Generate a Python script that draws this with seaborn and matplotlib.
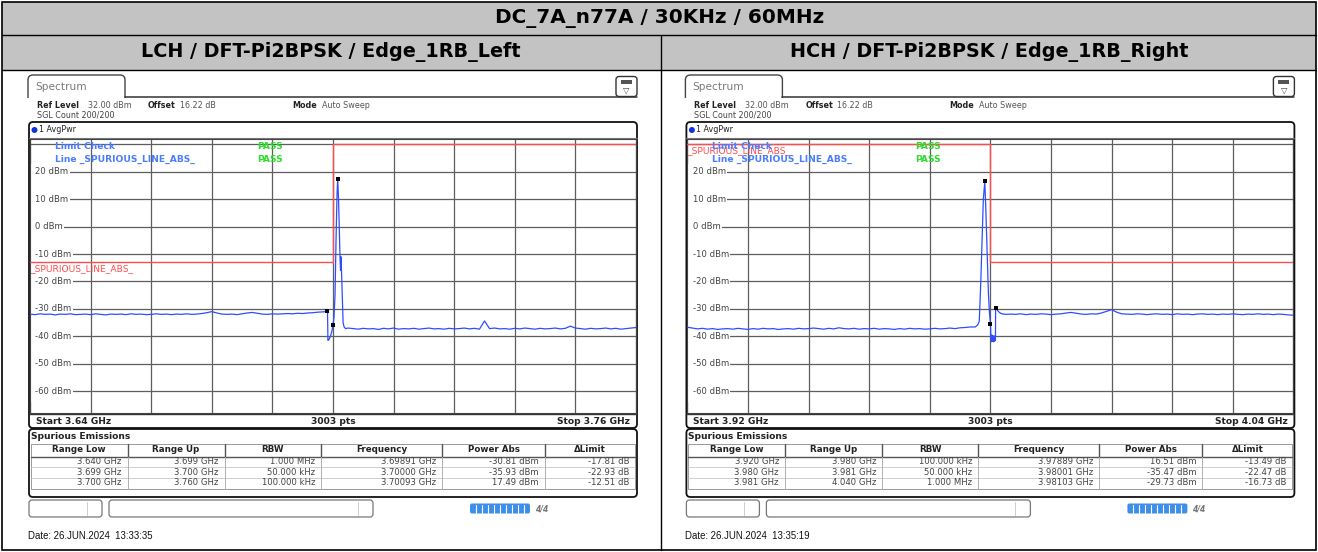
import numpy as np
import pandas as pd
import matplotlib
matplotlib.use("Agg")
import matplotlib.pyplot as plt
from matplotlib.patches import Rectangle, FancyBboxPatch, Circle
import matplotlib.transforms as mtransforms
import seaborn as sns

# ---------------- data ----------------
TITLE = "DC_7A_n77A / 30KHz / 60MHz"
PANEL_TITLES = ["LCH / DFT-Pi2BPSK / Edge_1RB_Left", "HCH / DFT-Pi2BPSK / Edge_1RB_Right"]
START_GHZ = [3.64, 3.92]
STOP_GHZ = [3.76, 4.04]
SWEEP_PTS = 3003
REF_LEVEL = "32.00 dBm"
OFFSET = "16.22 dB"
MODE = "Auto Sweep"
SGL_COUNT = "SGL Count 200/200"
TRACE_NAME = "1 AvgPwr"
LIMIT_NAME = "_SPURIOUS_LINE_ABS_"
Y_TICKS = [20, 10, 0, -10, -20, -30, -40, -50, -60]
DATES = ["Date: 26.JUN.2024  13:33:35", "Date: 26.JUN.2024  13:35:19"]
TABLE_COLS = ["Range Low", "Range Up", "RBW", "Frequency", "Power Abs", "\u0394Limit"]

# left panel spurious table
L_range_low = [3.640, 3.699, 3.700]
L_range_up = [3.699, 3.700, 3.760]
L_rbw = ["1.000 MHz", "50.000 kHz", "100.000 kHz"]
L_freq = [3.69891, 3.70000, 3.70093]
L_power = [-30.81, -35.93, 17.49]
L_delta = [-17.81, -22.93, -12.51]
# right panel spurious table
R_range_low = [3.920, 3.980, 3.981]
R_range_up = [3.980, 3.981, 4.040]
R_rbw = ["100.000 kHz", "50.000 kHz", "1.000 MHz"]
R_freq = [3.97889, 3.98001, 3.98103]
R_power = [16.51, -35.47, -29.73]
R_delta = [-13.49, -22.47, -16.73]

# trace readings (dBm); floor segments sampled every 1 MHz
L_floor1_start = 3.640
L_floor1 = [-31.9, -32.1, -31.8, -32.0, -31.9, -32.2, -31.9, -32.0, -31.8, -32.1,
            -32.0, -31.9, -32.1, -31.8, -32.0, -32.2, -31.9, -32.0, -31.9, -32.1,
            -31.8, -32.0, -31.9, -32.1, -32.0, -31.8, -32.0, -31.9, -32.1, -31.9,
            -32.0, -31.8, -32.0, -31.9, -31.7, -31.4, -31.0, -31.5, -31.9, -32.0,
            -31.9, -32.1, -31.8, -31.5, -31.3, -31.6, -31.9, -32.0, -31.8, -31.9,
            -31.8, -31.7, -31.8, -31.6, -31.7, -31.5, -31.4, -31.2]
L_peak_f = [3.6980, 3.6985, 3.69891, 3.6990, 3.6992, 3.6995, 3.6998, 3.7000, 3.7002,
            3.7004, 3.7006, 3.7008, 3.70093, 3.7011, 3.7013, 3.7014, 3.7015, 3.7016,
            3.7017, 3.7018, 3.7019, 3.7020, 3.7022, 3.7025]
L_peak_p = [-31.1, -31.0, -30.81, -41.5, -41.2, -40.0, -38.0, -35.93, -33.0,
            -25.0, -5.0, 12.0, 17.49, 10.0, -5.0, -12.0, -16.0, -11.0,
            -17.0, -24.0, -30.0, -35.0, -36.6, -37.2]
L_floor2_start = 3.703
L_floor2 = [-37.0, -37.2, -37.4, -37.1, -37.3, -37.2, -37.5, -37.1, -37.3, -37.0,
            -37.4, -37.2, -37.3, -37.1, -37.4, -37.2, -37.0, -37.3, -37.2, -37.4,
            -37.1, -37.3, -37.2, -37.0, -37.3, -37.1, -37.4, -34.4, -37.2, -37.0,
            -37.3, -37.2, -37.4, -37.1, -37.3, -37.0, -37.2, -37.4, -37.1, -37.3,
            -37.2, -37.0, -37.3, -37.1, -36.3, -37.0, -37.2, -37.4, -37.1, -37.3,
            -37.2, -37.0, -37.3, -37.1, -37.4, -37.2, -37.0, -36.8]

R_floor1_start = 3.920
R_floor1 = [-36.7, -37.0, -37.3, -37.1, -37.4, -37.2, -37.5, -37.3, -37.2, -37.4,
            -37.1, -37.3, -37.5, -37.2, -37.4, -37.1, -37.3, -37.2, -37.5, -37.3,
            -37.2, -37.4, -37.1, -37.3, -37.2, -37.0, -37.2, -37.4, -37.1, -37.3,
            -36.9, -37.2, -37.3, -37.1, -37.4, -37.2, -37.3, -37.1, -37.4, -37.2,
            -37.3, -37.5, -37.2, -37.4, -37.1, -37.3, -37.2, -37.4, -37.3, -37.1,
            -37.3, -37.2, -37.0, -37.2, -36.9, -36.8, -36.6]
R_peak_f = [3.9770, 3.9775, 3.9778, 3.9781, 3.9784, 3.9786, 3.97889, 3.9791, 3.9793,
            3.9794, 3.9796, 3.9798, 3.98001, 3.9801, 3.9802, 3.9803, 3.9804, 3.9805,
            3.9806, 3.9807, 3.9808, 3.9809, 3.9810, 3.98103, 3.9813, 3.9816, 3.9820,
            3.9826, 3.9832]
R_peak_p = [-36.6, -35.8, -34.5, -20.0, -2.0, 10.0, 16.51, 6.0, -6.0,
            -13.0, -24.0, -31.0, -35.47, -40.5, -42.0, -39.5, -41.8, -40.0,
            -42.0, -39.8, -41.9, -40.5, -41.5, -29.73, -30.2, -31.0, -31.6,
            -31.9, -32.0]
R_floor2_start = 3.984
R_floor2 = [-31.9, -32.0, -31.8, -32.1, -31.9, -32.0, -31.8, -31.9, -32.1, -31.9,
            -31.8, -31.5, -31.3, -31.6, -31.9, -32.0, -31.8, -31.9, -31.5, -30.9,
            -30.3, -31.2, -31.8, -31.9, -32.0, -31.8, -31.9, -32.1, -31.9, -31.8,
            -32.0, -31.9, -32.1, -31.8, -32.0, -31.9, -32.1, -31.9, -31.8, -32.0,
            -31.9, -32.1, -31.9, -32.0, -31.8, -32.0, -32.1, -31.9, -32.0, -31.8,
            -32.0, -31.9, -32.1, -31.9, -32.0, -32.2, -32.3]

SWEEP_STEP_GHZ = 0.001


def build_trace(f1_start, floor1, peak_f, peak_p, f2_start, floor2):
    f1 = np.round(f1_start + SWEEP_STEP_GHZ * np.arange(len(floor1)), 5)
    f2 = np.round(f2_start + SWEEP_STEP_GHZ * np.arange(len(floor2)), 5)
    freq = np.concatenate([f1, peak_f, f2])
    lev = np.concatenate([floor1, peak_p, floor2])
    return pd.DataFrame({"freq": freq, "level": lev})


PANELS = [
    dict(start=START_GHZ[0], stop=STOP_GHZ[0], low=L_range_low, up=L_range_up, rbw=L_rbw,
         freq=L_freq, power=L_power, delta=L_delta, date=DATES[0], title=PANEL_TITLES[0],
         trace=build_trace(L_floor1_start, L_floor1, L_peak_f, L_peak_p, L_floor2_start, L_floor2)),
    dict(start=START_GHZ[1], stop=STOP_GHZ[1], low=R_range_low, up=R_range_up, rbw=R_rbw,
         freq=R_freq, power=R_power, delta=R_delta, date=DATES[1], title=PANEL_TITLES[1],
         trace=build_trace(R_floor1_start, R_floor1, R_peak_f, R_peak_p, R_floor2_start, R_floor2)),
]

# ---------------- style ----------------
sns.set_style("white")
plt.rcParams["font.family"] = ["DejaVu Sans"]

W, H = 1318, 552
fig = plt.figure(figsize=(W / 100, H / 100), dpi=100)
bg = fig.add_axes([0, 0, 1, 1])
bg.set_xlim(0, W)
bg.set_ylim(H, 0)
bg.axis("off")

GRAY = "#c3c3c3"
TRACE_BLUE = "#2f4dff"
LIMIT_RED = "#ff4d4d"
INFO_FS = 5.8

# outer report table
bg.add_patch(Rectangle((2, 2), 1314, 32.5, fc=GRAY, ec="none"))
bg.add_patch(Rectangle((2, 35), 1314, 34.5, fc=GRAY, ec="none"))
bg.add_patch(Rectangle((2, 2), 1314, 548, fill=False, ec="black", lw=1.2))
bg.plot([2, 1316], [34.5, 34.5], color="black", lw=1.0)
bg.plot([2, 1316], [69.5, 69.5], color="black", lw=1.0)
bg.plot([661, 661], [34.5, 550], color="black", lw=1.0)
bg.text(660, 18.5, TITLE, ha="center", va="center", fontsize=14.4, fontweight="bold", color="black")


def draw_panel(ox, P, cx):
    bg.text(cx, 52.5, P["title"], ha="center", va="center", fontsize=13.8, fontweight="bold", color="black")

    # Spectrum tab
    bg.add_patch(FancyBboxPatch((ox + 28, 75), 97, 27, boxstyle="round,pad=0,rounding_size=5",
                                fc="white", ec="#444444", lw=1.0))
    bg.add_patch(Rectangle((ox + 27.4, 97.6), 98.4, 5, fc="white", ec="none", zorder=3))
    bg.plot([ox + 125, ox + 637], [97, 97], color="#333333", lw=1.1, zorder=4)
    bg.text(ox + 35, 86.5, "Spectrum", fontsize=7.6, color="#7a7a7a", va="center")
    # icon
    bg.add_patch(FancyBboxPatch((ox + 616, 76.5), 21, 20, boxstyle="round,pad=0,rounding_size=3",
                                fc="white", ec="#333333", lw=1.0, zorder=5))
    bg.add_patch(Rectangle((ox + 621, 80), 11, 3.5, fc="#555555", ec="none", zorder=6))
    bg.text(ox + 626.5, 90, "\u25bd", fontsize=6, ha="center", va="center", color="#444444", zorder=6)

    # header info
    bg.text(ox + 37, 105, "Ref Level", fontsize=INFO_FS, fontweight="bold", color="#222222", va="center")
    bg.text(ox + 88, 105, REF_LEVEL, fontsize=INFO_FS, color="#555555", va="center")
    bg.text(ox + 148, 105, "Offset", fontsize=INFO_FS, fontweight="bold", color="#222222", va="center")
    bg.text(ox + 180, 105, OFFSET, fontsize=INFO_FS, color="#555555", va="center")
    bg.text(ox + 292, 105, "Mode", fontsize=INFO_FS, fontweight="bold", color="#222222", va="center")
    bg.text(ox + 322, 105, MODE, fontsize=INFO_FS, color="#555555", va="center")
    bg.text(ox + 37, 115.5, SGL_COUNT, fontsize=INFO_FS, color="#444444", va="center")

    # diagram frame
    bg.add_patch(FancyBboxPatch((ox + 29, 122), 608, 306, boxstyle="round,pad=0,rounding_size=4",
                                fc="white", ec="#111111", lw=1.3))
    bg.plot([ox + 29, ox + 637], [137.5, 137.5], color="#777777", lw=0.8)
    bg.add_patch(Circle((ox + 34.5, 130), 3.0, fc="#1133dd", ec="none"))
    bg.text(ox + 39, 130, TRACE_NAME, fontsize=INFO_FS, color="#222222", va="center")
    bg.plot([ox + 29, ox + 637], [413.5, 413.5], color="#333333", lw=1.0)
    bg.text(ox + 36, 421, f"Start {P['start']:.2f} GHz", fontsize=6.6, fontweight="bold",
            color="#222222", va="center")
    bg.text(ox + 333, 421, f"{SWEEP_PTS} pts", fontsize=6.6, fontweight="bold", color="#222222",
            va="center", ha="center")
    bg.text(ox + 630, 421, f"Stop {P['stop']:.2f} GHz", fontsize=6.6, fontweight="bold",
            color="#222222", va="center", ha="right")

    # spurious emission frame + table
    bg.add_patch(FancyBboxPatch((ox + 29, 429), 608, 68, boxstyle="round,pad=0,rounding_size=4",
                                fc="white", ec="#111111", lw=1.3))
    bg.text(ox + 31, 436.5, "Spurious Emissions", fontsize=6.6, fontweight="bold", color="#222222",
            va="center")
    seps = [31, 127.5, 224.7, 321, 442, 545, 635]
    bg.add_patch(Rectangle((ox + 31, 443.5), 604, 45, fill=False, ec="#9a9a9a", lw=0.7))
    bg.plot([ox + 31, ox + 635], [456.5, 456.5], color="#555555", lw=1.0)
    for yy in (467, 477.5):
        bg.plot([ox + 31, ox + 635], [yy, yy], color="#c8c8c8", lw=0.6)
    for sx in seps[1:-1]:
        bg.plot([ox + sx, ox + sx], [443.5, 456.5], color="#555555", lw=1.0)
        bg.plot([ox + sx, ox + sx], [456.5, 488.5], color="#b0b0b0", lw=0.7)
    for i, name in enumerate(TABLE_COLS):
        bg.text(ox + (seps[i] + seps[i + 1]) / 2, 450, name, fontsize=6.3, fontweight="bold",
                color="#222222", ha="center", va="center")
    for r in range(3):
        cells = [f"{P['low'][r]:.3f} GHz", f"{P['up'][r]:.3f} GHz", P["rbw"][r],
                 f"{P['freq'][r]:.5f} GHz", f"{P['power'][r]:.2f} dBm", f"{P['delta'][r]:.2f} dB"]
        yy = 462 + r * 10.2
        for i, c in enumerate(cells):
            bg.text(ox + seps[i + 1] - 6, yy, c, fontsize=6.1, color="#444444", ha="right", va="center")

    # status bar
    bg.add_patch(FancyBboxPatch((ox + 29, 500), 73, 17, boxstyle="round,pad=0,rounding_size=3",
                                fc="white", ec="#777777", lw=0.9))
    bg.plot([ox + 87, ox + 87], [502, 515], color="#cccccc", lw=0.7)
    bg.add_patch(FancyBboxPatch((ox + 109, 500), 264, 17, boxstyle="round,pad=0,rounding_size=3",
                                fc="white", ec="#777777", lw=0.9))
    bg.plot([ox + 358, ox + 358], [502, 515], color="#cccccc", lw=0.7)
    bg.add_patch(FancyBboxPatch((ox + 470, 503.5), 60, 10, boxstyle="round,pad=0,rounding_size=2",
                                fc="#3d8fe8", ec="none"))
    for k in range(1, 10):
        bg.plot([ox + 470 + 6 * k, ox + 470 + 6 * k], [504.5, 512.5], color="white", lw=0.8)
    bg.text(ox + 535, 508.5, "4/4", fontsize=5.5, fontweight="bold", style="italic",
            color="#777777", va="center")

    bg.text(ox + 28, 536, P["date"], fontsize=6.9, color="#111111", va="center",
            family=["Liberation Sans", "DejaVu Sans"])

    # ---- spectrum diagram ----
    ax = fig.add_axes([(ox + 30) / W, 1 - 413 / H, 606 / W, 274 / H])
    ax.set_facecolor("white")
    ax.set_xlim(P["start"], P["stop"])
    ax.set_ylim(-68, 32)
    ax.set_xticks(np.linspace(P["start"], P["stop"], 11))
    ax.set_yticks(np.arange(-60, 31, 10))
    ax.tick_params(length=0, labelbottom=False, labelleft=False)
    ax.grid(True, color="#5e5e5e", lw=0.9)
    ax.set_axisbelow(True)
    for s in ax.spines.values():
        s.set_color("#444444")
        s.set_linewidth(0.8)

    # white strip hiding the grid stubs left of the level labels
    ax.add_patch(Rectangle((0.0015, 0.04), 0.008, 0.87, transform=ax.transAxes, fc="white",
                           ec="none", zorder=1.5))
    ytr = ax.get_yaxis_transform()
    for v in Y_TICKS:
        ax.text(0.009, v, f"{v} dBm", transform=ytr, fontsize=6.1, color="#444444",
                va="center", ha="left", zorder=2,
                bbox=dict(fc="white", ec="none", pad=0.8))

    # limit line from the spurious table (limit = power - delta)
    lim_f, lim_p = [], []
    for lo, up, pw, dl in zip(P["low"], P["up"], P["power"], P["delta"]):
        lim_f += [lo, up]
        lim_p += [round(pw - dl, 2)] * 2
    sns.lineplot(x=lim_f, y=lim_p, sort=False, estimator=None, color=LIMIT_RED, lw=1.0,
                 ax=ax, zorder=3)

    tr = P["trace"]
    sns.lineplot(data=tr, x="freq", y="level", sort=False, estimator=None, color=TRACE_BLUE,
                 lw=0.9, ax=ax, zorder=4)
    sns.scatterplot(x=P["freq"], y=P["power"], marker="s", s=9, color="black", linewidth=0,
                    ax=ax, zorder=6, legend=False)

    off = mtransforms.ScaledTranslation(0, -1.5 / 72, fig.dpi_scale_trans)
    first_lim = P["power"][0] - P["delta"][0]
    ax.text(P["start"], first_lim, LIMIT_NAME, transform=ax.transData + off, fontsize=6.6,
            color=LIMIT_RED, va="top", ha="left", zorder=5)

    atr = ax.transAxes
    ax.text(0.041, 0.974, "Limit Check", transform=atr, fontsize=6.6, fontweight="bold",
            color="#4a7dff", va="center", zorder=5)
    ax.text(0.041, 0.927, "Line " + LIMIT_NAME, transform=atr, fontsize=6.6, fontweight="bold",
            color="#4a7dff", va="center", zorder=5)
    ax.text(0.375, 0.974, "PASS", transform=atr, fontsize=6.6, fontweight="bold",
            color="#2ddc2d", va="center", zorder=5)
    ax.text(0.375, 0.927, "PASS", transform=atr, fontsize=6.6, fontweight="bold",
            color="#2ddc2d", va="center", zorder=5)
    ax.set_xlabel("")
    ax.set_ylabel("")
    return ax


draw_panel(0, PANELS[0], 331)
draw_panel(657.4, PANELS[1], 989)

fig.savefig("out.png", dpi=100)
